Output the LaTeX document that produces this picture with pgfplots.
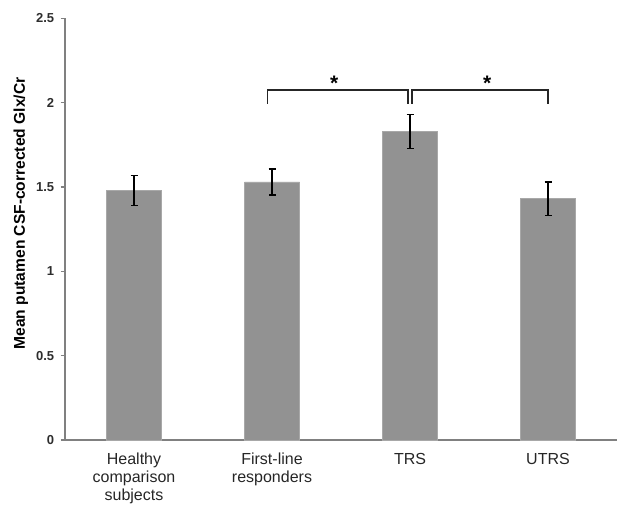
\documentclass[border=0pt]{standalone}
\usepackage{pgfplots}
\pgfplotsset{compat=1.18}
\usepackage{fontspec}
\setmainfont{Liberation Sans}
\definecolor{barfill}{RGB}{146,146,146}
\definecolor{baredge}{RGB}{168,168,168}
\definecolor{axgray}{RGB}{128,128,128}
\definecolor{ticktext}{RGB}{45,45,45}
\pgfplotstableread{
x y err
0 1.48 0.090
1 1.53 0.077
2 1.83 0.100
3 1.43 0.100
}\bardata
\begin{document}
\begin{tikzpicture}
\begin{axis}[
  name=ax,
  scale only axis, width=552pt, height=421.7pt,
  xmin=-0.5, xmax=3.5, ymin=0, ymax=2.5,
  axis x line=bottom, axis y line=left,
  axis line style={-, axgray, line width=1.4pt},
  xtick={0,1,2,3},
  xticklabels={Healthy\\comparison\\subjects, First-line\\responders, TRS, UTRS},
  xtick style={draw=none},
  xticklabel style={align=center, font=\fontsize{16}{18}\selectfont, color=black!85, anchor=north, yshift=-5.5pt},
  ytick={0,0.5,1,1.5,2,2.5},
  ytick style={axgray, line width=1.2pt},
  tick align=outside, major tick length=4.3pt,
  /pgf/number format/assume math mode=true,
  yticklabel style={font=\fontsize{13}{15}\selectfont\bfseries, color=ticktext, xshift=-3pt},
  ylabel={Mean putamen CSF-corrected Glx/Cr},
  ylabel style={font=\fontsize{15.6}{18}\selectfont\bfseries, at={(axis description cs:-0.0800,0.537)}, anchor=center, rotate=0},
  clip=false,
]
\addplot[ybar, bar width=55pt, fill=barfill, draw=baredge, line width=0.8pt,
  error bars/.cd, y dir=both, y explicit,
  error bar style={black, line width=1.3pt},
  error mark options={rotate=90, black, mark size=3.5pt, line width=1.2pt}]
  table[x=x, y=y, y error=err] {\bardata};
\draw[black!85, line width=1.2pt] (axis cs:0.97,1.992) |- (axis cs:1.985,2.075) -- (axis cs:1.985,1.992);
\draw[black!85, line width=1.2pt] (axis cs:2.015,1.992) |- (axis cs:3,2.075) -- (axis cs:3,1.992);
\node[anchor=base, inner sep=0pt, font=\fontsize{21}{22}\selectfont\bfseries, yshift=-1pt] at (axis cs:1.45,2.075) {*};
\node[anchor=base, inner sep=0pt, font=\fontsize{21}{22}\selectfont\bfseries, yshift=-1pt] at (axis cs:2.56,2.075) {*};
\end{axis}
\pgfresetboundingbox
\path[use as bounding box] ([xshift=-65pt,yshift=-66pt]ax.south west) rectangle ++(617pt,506pt);
\end{tikzpicture}
\end{document}
